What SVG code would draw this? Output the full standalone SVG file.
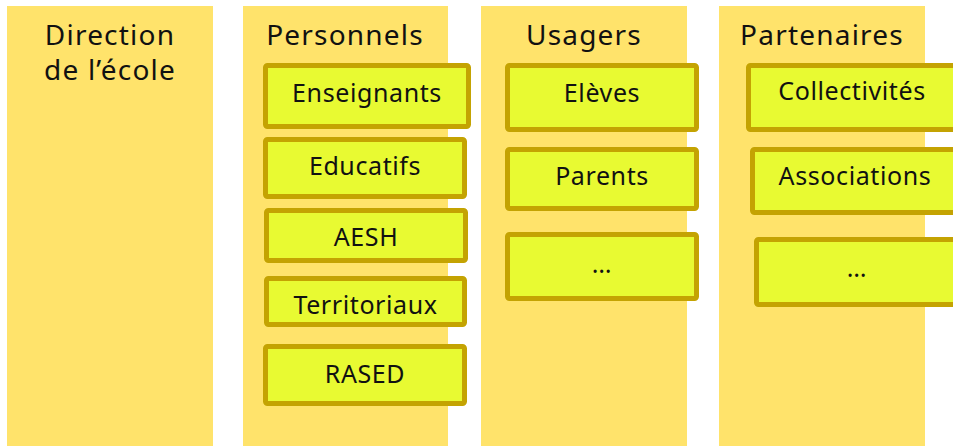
<svg xmlns="http://www.w3.org/2000/svg" width="953" height="446" viewBox="0 0 953 446">
<style>
.col{fill:#FFE36B}
.box{fill:#E8FA32;stroke:#C4A302;stroke-width:5}
.t{font-family:"Noto Sans","DejaVu Sans",sans-serif;fill:#111;text-anchor:middle}
.h{font-size:28px;letter-spacing:1.2px}
.b{font-size:25px;letter-spacing:0.6px}
</style>
<rect width="953" height="446" fill="#fff"/>
<g id="direction">
<rect class="col" x="7" y="6" width="206" height="440"/>
<text class="t h" x="110" y="45">Direction</text>
<text class="t h" x="110" y="80">de l’école</text>
</g>
<g id="personnels">
<rect class="col" x="243" y="6" width="205" height="440"/>
<text class="t h" x="345" y="45">Personnels</text>
</g>
<g id="usagers">
<rect class="col" x="481" y="6" width="206" height="440"/>
<text class="t h" x="584" y="45">Usagers</text>
</g>
<g id="partenaires">
<rect class="col" x="719" y="6" width="206" height="440"/>
<text class="t h" x="822" y="45">Partenaires</text>
</g>
<g id="enseignants"><rect class="box" x="265.5" y="65.5" width="203" height="61" rx="2"/><text class="t b" x="367" y="102">Enseignants</text></g>
<g id="educatifs"><rect class="box" x="265.5" y="139.5" width="199" height="57" rx="2"/><text class="t b" x="365" y="175">Educatifs</text></g>
<g id="aesh"><rect class="box" x="266.5" y="210.5" width="199" height="50" rx="2"/><text class="t b" x="366" y="246">AESH</text></g>
<g id="territoriaux"><rect class="box" x="266.5" y="278.5" width="198" height="46" rx="2"/><text class="t b" x="365.5" y="314">Territoriaux</text></g>
<g id="rased"><rect class="box" x="265.5" y="346.5" width="199" height="57" rx="2"/><text class="t b" x="365" y="383">RASED</text></g>
<g id="eleves"><rect class="box" x="507.5" y="65.5" width="189" height="64" rx="2"/><text class="t b" x="602" y="102">Elèves</text></g>
<g id="parents"><rect class="box" x="507.5" y="149.5" width="189" height="59" rx="2"/><text class="t b" x="602" y="185">Parents</text></g>
<g id="usagers-autres"><rect class="box" x="507.5" y="234.5" width="189" height="64" rx="2"/><text class="t b" x="602" y="273">…</text></g>
<g id="collectivites"><rect class="box" x="748.5" y="65.5" width="212" height="64" rx="2"/><text class="t b" x="852" y="100">Collectivités</text></g>
<g id="associations"><rect class="box" x="752.5" y="149.5" width="208" height="63" rx="2"/><text class="t b" x="855" y="185">Associations</text></g>
<g id="partenaires-autres"><rect class="box" x="756.5" y="239.5" width="204" height="65" rx="2"/><text class="t b" x="857" y="277">…</text></g>
<g id="connectors"/>
</svg>
